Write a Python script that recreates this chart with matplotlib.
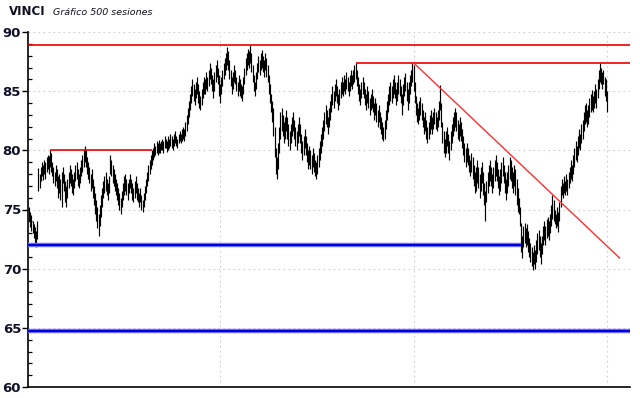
import numpy as np
import matplotlib
matplotlib.use("Agg")
import matplotlib.pyplot as plt
from matplotlib.ticker import MultipleLocator, NullFormatter

# ---- data (500 sessions, high / low per session) ----
highs = [
    75.2, 74.8, 74.5, 74.0, 73.8, 73.5, 73.2, 74.0, 78.5, 78.0,
    78.6, 79.0, 78.8, 79.2, 79.0, 79.4, 79.6, 79.5, 80.0, 79.8,
    79.0, 78.6, 78.2, 78.8, 78.4, 77.8, 78.0, 77.6, 78.2, 78.6,
    78.0, 77.4, 77.0, 77.6, 78.2, 78.8, 78.4, 78.0, 77.6, 78.2,
    78.8, 79.0, 78.4, 78.0, 78.6, 79.2, 79.6, 80.0, 80.4, 80.0,
    79.4, 79.0, 78.6, 78.0, 78.4, 77.6, 77.0, 76.4, 75.8, 75.2,
    74.6, 75.4, 76.2, 76.8, 77.4, 77.8, 78.2, 77.6, 77.2, 77.8,
    79.6, 79.2, 78.8, 78.4, 78.0, 77.6, 77.2, 76.8, 76.4, 76.0,
    76.6, 77.2, 77.8, 78.0, 77.6, 77.2, 77.6, 78.0, 77.6, 77.2,
    76.8, 77.4, 77.8, 77.2, 76.8, 76.4, 76.8, 76.2, 75.8, 76.4,
    77.0, 77.6, 78.2, 78.8, 79.2, 79.6, 80.0, 80.2, 80.6, 80.4,
    80.8, 80.6, 80.9, 80.6, 80.8, 81.0, 80.8, 81.2, 81.0, 80.8,
    81.2, 81.0, 81.4, 81.2, 81.0, 81.4, 81.6, 81.2, 81.0, 81.4,
    81.6, 81.4, 81.8, 82.0, 81.8, 82.4, 83.0, 83.6, 84.2, 84.8,
    85.4, 86.0, 85.6, 85.2, 85.8, 86.2, 85.6, 85.0, 84.6, 85.2,
    85.8, 86.2, 86.0, 86.6, 86.2, 86.8, 87.4, 87.0, 86.4, 86.0,
    86.6, 87.2, 87.6, 87.0, 86.4, 85.6, 86.2, 86.8, 87.4, 87.8,
    88.2, 88.7, 88.4, 87.6, 86.8, 86.2, 86.6, 87.2, 86.8, 86.2,
    85.8, 86.4, 86.0, 85.6, 85.4, 86.2, 87.0, 87.8, 88.2, 88.6,
    88.4, 88.9, 88.2, 87.2, 86.4, 85.8, 86.6, 87.4, 88.0, 87.6,
    88.2, 88.5, 88.0, 87.6, 88.2, 87.8, 87.2, 86.4, 85.6, 84.8,
    84.2, 83.6, 82.0, 80.2, 79.4, 80.6, 82.0, 83.2, 83.6, 83.0,
    82.4, 82.8, 83.4, 82.8, 82.2, 81.6, 82.2, 82.8, 83.2, 82.6,
    82.0, 81.6, 82.2, 82.8, 82.2, 81.4, 80.8, 81.2, 81.8, 81.2,
    80.6, 80.0, 80.4, 80.0, 79.6, 80.2, 79.8, 79.2, 79.0, 79.6,
    80.2, 80.8, 81.4, 82.0, 82.6, 83.2, 83.8, 83.4, 82.8, 83.6,
    84.2, 84.8, 85.4, 85.0, 85.6, 86.0, 85.4, 84.8, 85.2, 85.8,
    86.2, 85.8, 86.4, 86.0, 86.6, 86.2, 85.8, 86.4, 86.8, 86.4,
    86.8, 87.2, 87.4, 86.8, 86.2, 85.6, 85.2, 85.8, 86.2, 85.8,
    85.2, 84.8, 85.4, 85.0, 84.4, 84.8, 85.2, 84.6, 84.0, 84.4,
    84.0, 83.4, 83.8, 83.2, 82.8, 82.4, 82.0, 82.6, 83.4, 84.2,
    84.8, 85.4, 85.8, 85.4, 86.0, 86.4, 85.8, 85.2, 85.8, 86.4,
    86.0, 85.4, 84.8, 85.6, 86.2, 86.5, 85.8, 85.2, 85.8, 86.4,
    86.8, 87.4, 87.2, 85.8, 84.6, 84.0, 83.6, 84.2, 84.5, 84.0,
    83.4, 82.8, 83.2, 82.6, 82.0, 82.4, 83.0, 83.4, 82.8, 83.2,
    83.6, 83.2, 82.8, 83.4, 84.2, 85.5, 84.0, 82.4, 81.6, 81.0,
    81.6, 82.0, 81.4, 80.8, 81.6, 82.2, 82.8, 83.2, 83.6, 83.2,
    82.6, 82.2, 82.8, 82.4, 81.8, 81.2, 80.6, 80.2, 80.6, 80.2,
    79.6, 79.2, 79.8, 79.4, 78.8, 78.2, 78.6, 79.2, 78.6, 78.0,
    78.6, 79.0, 78.2, 77.2, 76.6, 77.4, 78.2, 78.8, 79.2, 78.6,
    78.0, 78.6, 79.2, 79.6, 79.0, 78.4, 77.8, 78.4, 79.0, 79.4,
    78.8, 78.2, 77.6, 78.2, 78.8, 79.4, 79.2, 78.6, 78.2, 78.8,
    78.4, 77.6, 76.8, 76.0, 75.2, 73.9, 72.8, 73.6, 73.9, 73.4,
    73.8, 73.2, 72.6, 72.2, 71.8, 71.4, 72.0, 71.6, 72.4, 73.0,
    73.3, 72.8, 72.2, 72.8, 73.6, 74.0, 73.6, 74.2, 74.4, 74.0,
    74.6, 75.4, 76.2, 75.8, 75.0, 74.6, 75.2, 74.8, 75.6, 77.0,
    77.6, 77.2, 77.8, 77.4, 78.0, 77.6, 78.2, 78.6, 79.2, 78.8,
    79.6, 80.2, 80.8, 80.4, 81.2, 81.8, 81.4, 82.2, 82.6, 83.2,
    83.8, 84.0, 83.4, 83.8, 84.4, 84.8, 85.1, 84.6, 85.0, 85.6,
    85.2, 86.0, 86.8, 87.4, 87.0, 86.6, 86.8, 86.2, 86.0, 85.0,
]
lows = [
    74.0, 73.5, 73.2, 73.0, 72.6, 72.0, 71.8, 72.5, 76.6, 76.8,
    77.4, 77.8, 77.5, 78.0, 77.6, 78.2, 78.4, 78.0, 78.6, 78.2,
    77.8, 77.2, 77.0, 77.4, 76.8, 76.0, 76.4, 75.8, 75.2, 77.2,
    76.6, 75.6, 75.2, 76.0, 76.8, 77.2, 77.0, 76.4, 76.2, 76.8,
    77.4, 77.6, 77.0, 76.8, 77.2, 77.8, 78.2, 78.6, 79.0, 78.6,
    78.0, 77.6, 77.2, 76.6, 76.8, 76.0, 75.4, 74.6, 74.0, 73.4,
    72.8, 73.6, 74.4, 75.2, 76.0, 76.4, 76.6, 76.2, 75.8, 76.4,
    78.0, 77.8, 77.2, 77.0, 76.6, 76.2, 75.8, 75.4, 75.0, 74.6,
    75.2, 75.8, 76.2, 76.6, 76.2, 75.8, 76.4, 76.8, 76.4, 75.8,
    75.6, 76.0, 76.4, 75.8, 75.6, 75.2, 75.6, 75.0, 74.8, 75.2,
    75.8, 76.4, 77.0, 77.4, 78.0, 78.4, 78.8, 79.2, 79.4, 79.6,
    79.8, 79.6, 79.8, 79.8, 80.0, 80.0, 79.8, 80.2, 80.2, 79.9,
    80.0, 80.2, 80.4, 80.2, 80.0, 80.4, 80.6, 80.4, 80.2, 80.6,
    80.8, 80.6, 80.8, 81.0, 80.8, 81.2, 81.6, 82.2, 82.8, 83.4,
    84.0, 84.6, 84.2, 83.8, 84.4, 84.8, 84.0, 83.6, 83.4, 83.8,
    84.4, 84.8, 84.8, 85.2, 85.0, 85.4, 86.0, 85.6, 85.0, 84.4,
    85.0, 85.8, 86.2, 85.6, 84.6, 84.0, 84.8, 85.4, 86.0, 86.4,
    86.8, 87.2, 86.8, 86.0, 85.4, 84.8, 85.2, 85.8, 85.6, 85.0,
    84.6, 85.0, 84.6, 84.4, 84.2, 84.8, 85.6, 86.4, 86.8, 87.2,
    87.0, 87.4, 86.6, 85.8, 85.0, 84.6, 85.2, 86.0, 86.6, 86.4,
    86.8, 87.0, 86.6, 86.2, 86.8, 86.2, 85.8, 84.8, 84.0, 83.2,
    82.4, 81.2, 79.4, 78.0, 77.6, 78.4, 79.8, 81.0, 81.6, 81.2,
    80.6, 81.0, 81.6, 81.0, 80.4, 80.0, 80.6, 81.2, 81.6, 81.0,
    80.4, 80.0, 80.6, 81.2, 80.6, 79.8, 79.2, 79.6, 80.2, 79.6,
    79.0, 78.4, 78.8, 78.4, 78.0, 78.6, 78.2, 77.8, 77.6, 78.0,
    78.6, 79.2, 79.8, 80.4, 81.0, 81.6, 82.2, 82.0, 81.4, 82.0,
    82.6, 83.2, 83.8, 83.6, 84.2, 84.6, 84.0, 83.4, 83.8, 84.4,
    84.8, 84.6, 85.0, 84.8, 85.2, 85.0, 84.6, 85.0, 85.4, 85.2,
    85.6, 85.8, 86.0, 85.4, 84.8, 84.2, 83.8, 84.4, 84.8, 84.4,
    83.8, 83.4, 84.0, 83.6, 83.0, 83.4, 83.6, 83.2, 82.6, 83.0,
    82.4, 82.0, 82.4, 81.8, 81.4, 81.0, 80.8, 81.0, 81.8, 82.6,
    83.2, 83.8, 84.2, 84.0, 84.4, 84.8, 84.4, 83.8, 84.2, 84.8,
    84.6, 84.0, 83.0, 83.8, 84.6, 85.0, 84.2, 83.4, 84.0, 84.8,
    85.4, 85.8, 85.0, 84.0, 83.0, 82.4, 82.2, 82.6, 83.0, 82.6,
    82.0, 81.4, 81.6, 81.0, 80.6, 81.0, 81.4, 81.8, 81.4, 81.8,
    82.2, 81.8, 81.6, 82.0, 82.6, 83.4, 82.0, 80.6, 79.8, 79.4,
    79.8, 80.4, 79.8, 79.2, 80.0, 80.6, 81.2, 81.6, 82.0, 81.6,
    81.0, 80.8, 81.2, 80.8, 80.2, 79.6, 79.0, 78.6, 79.0, 78.8,
    78.2, 77.8, 78.2, 77.6, 77.0, 76.4, 76.6, 77.2, 76.8, 76.0,
    76.6, 77.2, 76.2, 75.4, 74.0, 75.6, 76.4, 77.0, 77.4, 77.0,
    76.4, 76.8, 77.4, 77.8, 77.4, 76.8, 76.2, 76.6, 77.2, 77.8,
    77.2, 76.4, 75.8, 76.4, 77.0, 77.6, 77.4, 76.8, 76.4, 77.0,
    76.2, 75.4, 74.8, 74.6, 73.6, 71.4, 70.9, 71.8, 72.2, 71.8,
    72.0, 71.4, 71.0, 70.6, 70.2, 69.9, 70.4, 70.0, 70.6, 71.2,
    71.6, 71.0, 70.4, 71.2, 72.0, 72.4, 72.0, 72.6, 72.8, 72.4,
    73.0, 73.6, 74.2, 74.0, 73.8, 73.4, 73.6, 73.1, 74.0, 75.2,
    76.2, 76.0, 76.4, 76.2, 76.6, 76.2, 76.8, 77.2, 77.6, 77.4,
    78.0, 78.6, 79.2, 79.0, 79.6, 80.2, 80.0, 80.6, 81.0, 81.6,
    82.2, 82.4, 82.0, 82.2, 82.8, 83.2, 83.4, 83.2, 83.6, 84.0,
    83.6, 84.4, 85.2, 85.8, 85.6, 85.2, 85.6, 84.6, 84.2, 83.2,
]

# support / resistance levels: (price, start session, end session)
red_levels = [(88.9, -1, 519), (87.4, 282, 519), (80.0, 18, 106)]
blue_levels = [(72.0, -1, 425), (64.7, -1, 519)]
trend_x = [332, 510]
trend_y = [87.4, 70.9]
vgrid_sessions = [165, 332, 499]
yticks = [60, 65, 70, 75, 80, 85, 90]

title_main = "VINCI"
title_sub = "Gráfico 500 sesiones"

# ---- figure ----
fig = plt.figure(figsize=(6.4, 3.98), dpi=100)
ax = fig.add_axes([28/640, 11/398, 602/640, 355/398])
ax.set_xlim(-1, 519)
ax.set_ylim(60, 90)

grid_kw = dict(color="#d2ccd2", lw=0.8, ls=(0, (1.5, 3)), zorder=0)
for yv in yticks[1:]:
    ax.axhline(yv, **grid_kw)
for xv in vgrid_sessions:
    ax.axvline(xv, **grid_kw)

x = np.arange(len(highs))
ax.vlines(x, lows, highs, color="black", lw=0.85, zorder=3)

for p, a, b in red_levels:
    ax.plot([a, b], [p, p], color="#ee0000", lw=1.2, zorder=4, solid_capstyle="butt")
for p, a, b in blue_levels:
    ax.plot([a, b], [p, p], color="#7a7aff", lw=3.2, zorder=4, solid_capstyle="butt")
    ax.plot([a, b], [p, p], color="#0000dd", lw=1.6, zorder=5, solid_capstyle="butt")
ax.plot(trend_x, trend_y, color="#ff3030", lw=1.0, zorder=4)

for s in ["top", "right"]:
    ax.spines[s].set_visible(False)
ax.spines["left"].set_linewidth(1.2)
ax.spines["bottom"].set_linewidth(1.2)
ax.set_xticks([])
ax.set_yticks(yticks)
ax.yaxis.set_minor_locator(MultipleLocator(1))
ax.yaxis.set_minor_formatter(NullFormatter())
ax.tick_params(axis="y", which="major", direction="out", length=4, width=1.0,
               labelsize=9.5, pad=1, labelcolor="#101028")
ax.tick_params(axis="y", which="minor", direction="in", length=3, width=0.9)
for lab in ax.get_yticklabels():
    lab.set_fontweight("bold")

fig.text(9/640, 1 - 15/398, title_main, fontsize=8.5, fontweight="bold",
         color="#101020", ha="left", va="baseline")
fig.text(53/640, 1 - 15/398, title_sub, fontsize=6.8, fontstyle="italic",
         color="#101020", ha="left", va="baseline")

fig.savefig("out.png", dpi=100)
